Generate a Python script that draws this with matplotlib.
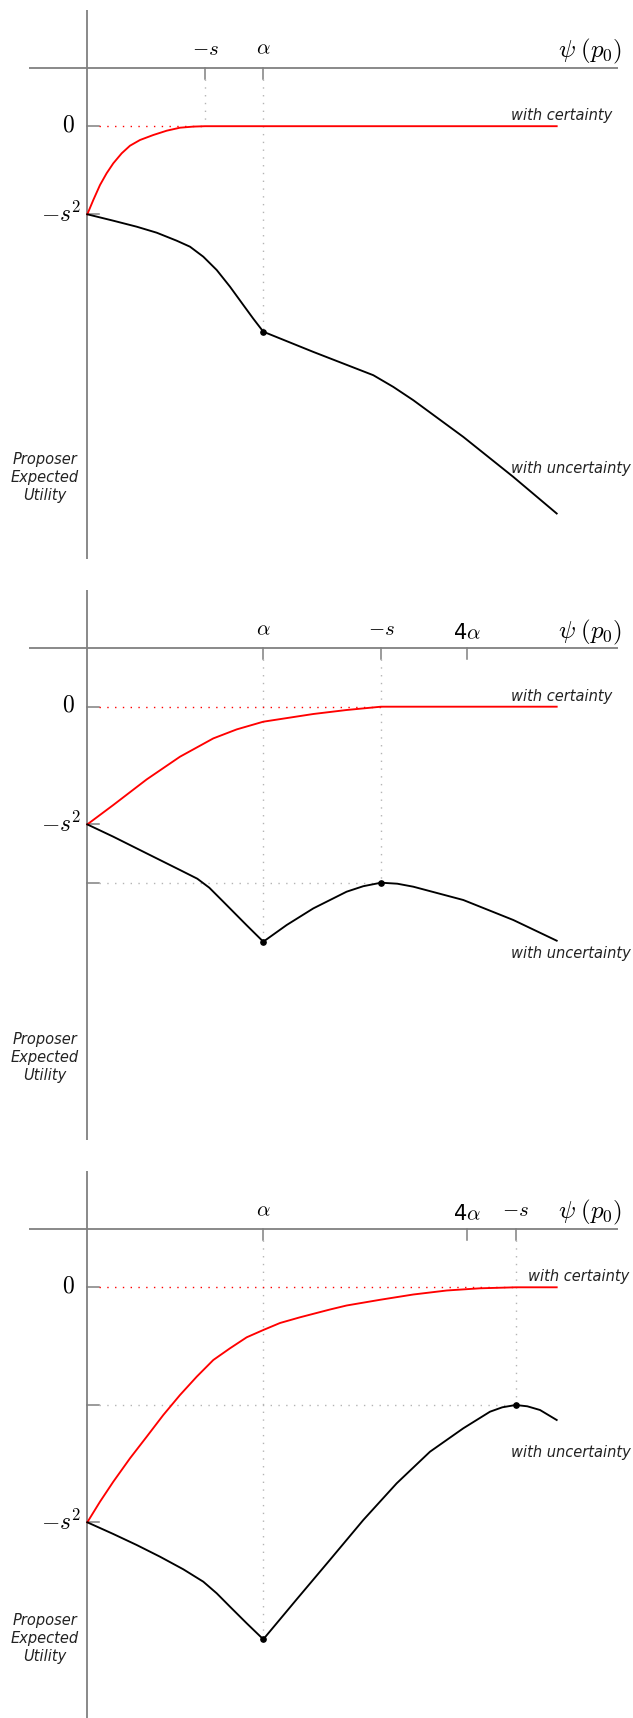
import matplotlib
matplotlib.use("Agg")
import matplotlib.pyplot as plt

plt.rcParams['mathtext.fontset'] = 'cm'
plt.rcParams['font.family'] = ['DejaVu Sans']

# positions on the psi(p0) axis (same units in all three panels)
alpha_x = 1.76
neg_s_x = [1.177, 2.937, 4.284]
four_alpha_x = [None, 3.80, 3.80]

# -s^2 level, level reached at -s (panels 2 and 3), value at alpha
neg_s2_y = [-0.881, -1.177, -2.35]
peak_y = [None, -1.76, -1.177]
dip_y = [-2.055, -2.35, -3.52]

# "with certainty" curves
red_x = [
    [0, 0.06, 0.127, 0.193, 0.26, 0.344, 0.427, 0.527, 0.66, 0.794, 0.927, 1.06, 1.177, 4.694],
    [0, 0.26, 0.594, 0.927, 1.26, 1.494, 1.76, 2.26, 2.593, 2.937, 4.694],
    [0, 0.127, 0.26, 0.427, 0.594, 0.76, 0.927, 1.094, 1.26, 1.427, 1.594, 1.76, 1.927,
     2.127, 2.427, 2.593, 2.927, 3.26, 3.594, 3.927, 4.284, 4.694],
]
red_y = [
    [-0.881, -0.738, -0.588, -0.471, -0.371, -0.271, -0.195, -0.138, -0.088, -0.045, -0.015, -0.004, 0, 0],
    [-1.177, -0.983, -0.727, -0.50, -0.317, -0.227, -0.15, -0.073, -0.033, 0, 0],
    [-2.35, -2.144, -1.944, -1.71, -1.494, -1.277, -1.077, -0.894, -0.727, -0.61, -0.50, -0.427, -0.357,
     -0.30, -0.222, -0.182, -0.125, -0.072, -0.032, -0.01, 0, 0],
]

# "with uncertainty" curves
black_x = [
    [0, 0.26, 0.494, 0.694, 0.894, 1.027, 1.16, 1.294, 1.427, 1.56, 1.66, 1.76,
     2.26, 2.86, 3.06, 3.26, 3.76, 4.26, 4.694],
    [0, 0.26, 0.594, 0.927, 1.10, 1.22, 1.36, 1.594, 1.76, 1.994, 2.26, 2.593, 2.76, 2.937,
     3.10, 3.26, 3.76, 4.26, 4.694],
    [0, 0.26, 0.494, 0.727, 0.96, 1.16, 1.294, 1.427, 1.594, 1.76, 1.927, 2.094, 2.427, 2.76,
     3.094, 3.427, 3.76, 4.027, 4.15, 4.284, 4.40, 4.527, 4.694],
]
black_y = [
    [-0.881, -0.945, -1.005, -1.065, -1.145, -1.205, -1.305, -1.438, -1.605, -1.788, -1.925, -2.055,
     -2.257, -2.49, -2.607, -2.74, -3.107, -3.507, -3.873],
    [-1.177, -1.30, -1.467, -1.633, -1.72, -1.81, -1.95, -2.186, -2.35, -2.183, -2.017, -1.85, -1.795, -1.76,
     -1.77, -1.80, -1.933, -2.133, -2.34],
    [-2.35, -2.467, -2.577, -2.694, -2.82, -2.944, -3.06, -3.194, -3.36, -3.52, -3.32, -3.12, -2.725, -2.327,
     -1.96, -1.644, -1.41, -1.244, -1.20, -1.177, -1.19, -1.227, -1.327],
]

# label placement
cert_label_x = [4.237, 4.237, 4.41]
uncert_label_y = [-3.467, -2.517, -1.70]

AXIS_GRAY = '#808080'
DOT_GRAY = '#b4b4b4'
DOTS = (0, (1, 4.6))

W, H = 633, 1718
fig = plt.figure(figsize=(W / 100, H / 100), dpi=100)

zero_px = [126.2, 706.7, 1287.3]
y_top, y_bot = 1.167, -4.33
x_left, x_right = -0.873, 5.457
psi_y = 0.585

for k in range(3):
    top_px = zero_px[k] - y_top * 100
    h_px = (y_top - y_bot) * 100
    ax = fig.add_axes([0, 1 - (top_px + h_px) / H, 1, h_px / H])
    ax.set_xlim(x_left, x_right)
    ax.set_ylim(y_bot, y_top)
    ax.axis('off')

    # axes lines
    ax.plot([0, 0], [y_bot, y_top], color=AXIS_GRAY, lw=1.3, solid_capstyle='butt')
    ax.plot([-0.58, 5.31], [psi_y, psi_y], color=AXIS_GRAY, lw=1.3, solid_capstyle='butt')

    # ticks on the psi axis
    xt = [neg_s_x[k], alpha_x]
    if four_alpha_x[k] is not None:
        xt.append(four_alpha_x[k])
    for xv in xt:
        ax.plot([xv, xv], [psi_y, psi_y - 0.11], color=AXIS_GRAY, lw=1.1)

    # ticks on the utility axis
    yt = [0, neg_s2_y[k]]
    if peak_y[k] is not None:
        yt.append(peak_y[k])
    for yv in yt:
        ax.plot([0, 0.115], [yv, yv], color=AXIS_GRAY, lw=1.1)

    # dotted guides
    ax.plot([alpha_x, alpha_x], [psi_y - 0.11, dip_y[k]], color=DOT_GRAY, lw=1, ls=DOTS)
    if peak_y[k] is None:
        ax.plot([neg_s_x[k], neg_s_x[k]], [psi_y - 0.11, 0], color=DOT_GRAY, lw=1, ls=DOTS)
    else:
        ax.plot([neg_s_x[k], neg_s_x[k]], [psi_y - 0.11, peak_y[k]], color=DOT_GRAY, lw=1, ls=DOTS)
        ax.plot([0.115, neg_s_x[k]], [peak_y[k], peak_y[k]], color=DOT_GRAY, lw=1, ls=DOTS)
    ax.plot([0.115, neg_s_x[k]], [0, 0], color='red', lw=1, ls=DOTS)

    # curves
    ax.plot(red_x[k], red_y[k], color='red', lw=1.35, solid_joinstyle='round')
    ax.plot(black_x[k], black_y[k], color='black', lw=1.35, solid_joinstyle='round')

    # marked points
    ax.plot([alpha_x], [dip_y[k]], 'o', color='black', ms=3.8)
    if peak_y[k] is not None:
        ax.plot([neg_s_x[k]], [peak_y[k]], 'o', color='black', ms=3.8)

    # tick labels
    ax.text(alpha_x, psi_y + 0.13, r'$\alpha$', fontsize=15, ha='center', va='baseline')
    ax.text(neg_s_x[k], psi_y + 0.13, r'$-s$', fontsize=15, ha='center', va='baseline')
    if four_alpha_x[k] is not None:
        ax.text(four_alpha_x[k], psi_y + 0.09, r'4$\alpha$', fontsize=15, ha='center', va='baseline')
    ax.text(5.35, psi_y + 0.10, r'$\psi\;(p_0)$', fontsize=18, ha='right', va='baseline')
    ax.text(-0.123, 0.02, r'$0$', fontsize=17, ha='right', va='center')
    ax.text(-0.062, neg_s2_y[k], r'$-s^2$', fontsize=17, ha='right', va='center')

    # curve labels
    ax.text(cert_label_x[k], 0.06, 'with certainty', fontsize=10.5, style='italic',
            ha='left', va='baseline', color='#222222')
    ax.text(4.237, uncert_label_y[k], 'with uncertainty', fontsize=10.5, style='italic',
            ha='left', va='baseline', color='#222222')
    ax.text(-0.423, -3.51, 'Proposer\nExpected\nUtility', fontsize=10.5, style='italic',
            ha='center', va='center', linespacing=1.25, color='#222222')

fig.savefig('out.png', dpi=100)
